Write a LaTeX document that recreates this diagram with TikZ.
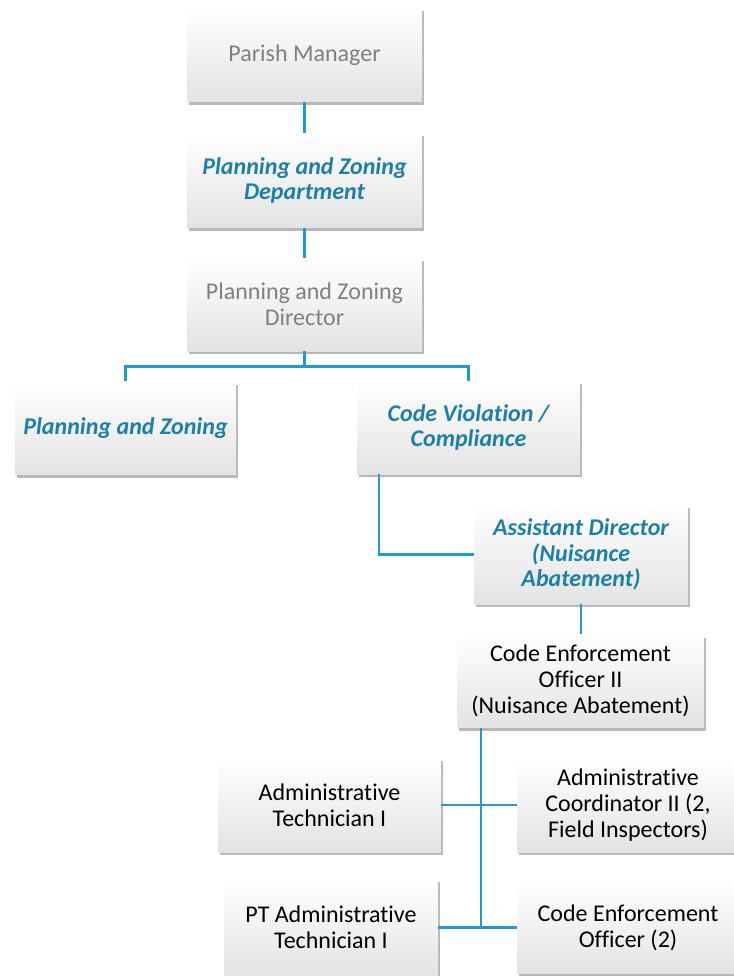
\documentclass[tikz,border=0pt]{standalone}
\usepackage{fontspec}
\setmainfont{Carlito}[Ligatures={NoCommon}]
\usepackage{tikz}
\usetikzlibrary{shadows, calc}

\definecolor{linkblue}{RGB}{30,155,210}
\definecolor{deptblue}{RGB}{28,128,170}
\definecolor{softgray}{RGB}{128,128,128}

\begin{document}
\begin{tikzpicture}[x=1pt, y=-1pt,
    box/.style={rectangle, inner sep=3pt, align=center, font=\fontsize{24}{25.8}\selectfont,
      top color=white, middle color=white, bottom color=black!11,
      drop shadow={shadow xshift=1.5pt, shadow yshift=-3pt, fill=black, opacity=0.28}},
    dept/.style={box, text=deptblue, font=\fontsize{24}{25.8}\selectfont\bfseries\itshape},
    pale/.style={box, text=softgray},
    conn/.style={draw=linkblue, line width=2.6pt}]
      \useasboundingbox (0,0) rectangle (733,976);

      \node[pale, minimum width=235pt, minimum height=94pt] (pm) at (304.5,55) {Parish Manager};
      \node[dept, minimum width=235pt, minimum height=95pt] (pzd) at (304.5,180.5) {Planning and Zoning\\Department};
      \node[pale, minimum width=235pt, minimum height=93pt] (dir) at (304.5,304.5) {Planning and Zoning\\Director};

      \node[dept, minimum width=221pt, minimum height=93pt] (pz) at (125.5,428) {Planning and Zoning};
      \node[dept, minimum width=223pt, minimum height=93pt] (cv) at (468.5,427.5) {Code Violation /\\Compliance};

      \node[dept, minimum width=214pt, minimum height=99pt] (ad) at (581,554.5) {Assistant Director\\(Nuisance\\Abatement)};
      \node[box, minimum width=247pt, minimum height=93pt] (ceo2) at (580.5,681) {Code Enforcement\\Officer II\\(Nuisance Abatement)};

      \node[box, minimum width=223pt, minimum height=94pt] (at1) at (329.5,805) {Administrative\\Technician I};
      \node[box, minimum width=222pt, minimum height=94pt] (ac2) at (628,805) {Administrative\\Coordinator II (2,\\Field Inspectors)};
      \node[box, minimum width=214pt, minimum height=97pt] (pt) at (331,927.5) {PT Administrative\\Technician I};
      \node[box, minimum width=222pt, minimum height=91pt] (ceo) at (628,927.5) {Code Enforcement\\Officer (2)};

      \draw[conn] (pm) -- (pzd);
      \draw[conn] (pzd) -- (dir);
      \draw[conn] (dir.south) -- ++(0,15) coordinate (bus) -| (pz.north);
      \draw[conn] (bus) -| (cv.north);
      \draw[conn] ([xshift=-89.5pt]cv.south) |- (ad.west);
      \draw[conn] (ad.south) -- (ad.south |- ceo2.north);
      \draw[conn] ([xshift=-99.5pt]ceo2.south) coordinate (spine) -- (spine |- ceo.west);
      \draw[conn] (at1.east) -- (ac2.west);
      \draw[conn] (pt.east) -- (ceo.west);
    \end{tikzpicture}
\end{document}
